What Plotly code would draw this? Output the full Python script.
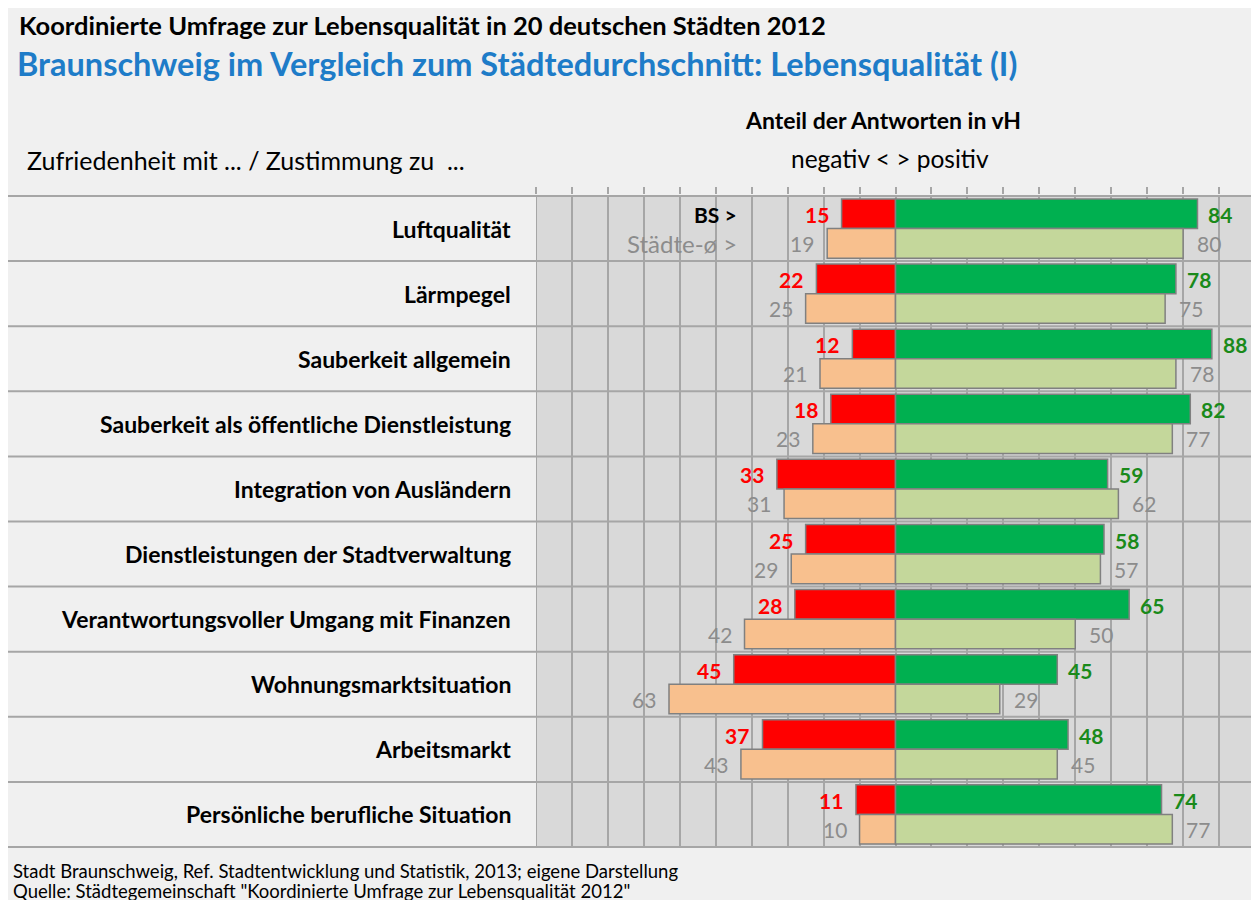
import plotly.graph_objects as go

categories = [
    "Luftqualität",
    "Lärmpegel",
    "Sauberkeit allgemein",
    "Sauberkeit als öffentliche Dienstleistung",
    "Integration von Ausländern",
    "Dienstleistungen der Stadtverwaltung",
    "Verantwortungsvoller Umgang mit Finanzen",
    "Wohnungsmarktsituation",
    "Arbeitsmarkt",
    "Persönliche berufliche Situation",
]
bs_negativ = [15, 22, 12, 18, 33, 25, 28, 45, 37, 11]
bs_positiv = [84, 78, 88, 82, 59, 58, 65, 45, 48, 74]
staedte_negativ = [19, 25, 21, 23, 31, 29, 42, 63, 43, 10]
staedte_positiv = [80, 75, 78, 77, 62, 57, 50, 29, 45, 77]

FONT = "Lato"
OFF = 8  # page body margin
W, H = 1251, 892
ML, MR, MT, MB = 528, 4, 187, 52
PW, PH = W - ML - MR, H - MT - MB


def px(p):
    return (p - OFF - ML) / PW


def py(q):
    return (H - MB - (q - OFF)) / PH


GRID = "#a6a6a6"
OUTLINE = "#808080"

fig = go.Figure()


def add_bar(vals, sign, color, group, name):
    fig.add_trace(go.Bar(
        y=categories,
        x=[sign * v for v in vals],
        orientation="h",
        offsetgroup=group,
        marker=dict(color=color, line=dict(color=OUTLINE, width=1.5)),
        name=name,
        showlegend=False,
        hoverinfo="skip",
    ))


add_bar(bs_negativ, -1, "#ff0000", "bs", "BS negativ")
add_bar(bs_positiv, 1, "#00b050", "bs", "BS positiv")
add_bar(staedte_negativ, -1, "#f8c08e", "st", "Städte negativ")
add_bar(staedte_positiv, 1, "#c4d79b", "st", "Städte positiv")

VS = 21
annotations = []
for i, cat in enumerate(categories):
    annotations.append(dict(x=-bs_negativ[i], y=cat, xref="x", yref="y", text=str(bs_negativ[i]),
                            xanchor="right", yanchor="middle", xshift=-11, yshift=14, showarrow=False,
                            font=dict(family=FONT, size=VS, color="#ff0000", weight="bold")))
    annotations.append(dict(x=bs_positiv[i], y=cat, xref="x", yref="y", text=str(bs_positiv[i]),
                            xanchor="left", yanchor="middle", xshift=9, yshift=14, showarrow=False,
                            font=dict(family=FONT, size=VS, color="#1a8a1a", weight="bold")))
    annotations.append(dict(x=-staedte_negativ[i], y=cat, xref="x", yref="y", text=str(staedte_negativ[i]),
                            xanchor="right", yanchor="middle", xshift=-11, yshift=-15, showarrow=False,
                            font=dict(family=FONT, size=VS, color="#8c8c8c")))
    annotations.append(dict(x=staedte_positiv[i], y=cat, xref="x", yref="y", text=str(staedte_positiv[i]),
                            xanchor="left", yanchor="middle", xshift=12, yshift=-15, showarrow=False,
                            font=dict(family=FONT, size=VS, color="#8c8c8c")))
    annotations.append(dict(x=0, y=cat, xref="paper", yref="y", text=cat, xanchor="right",
                            yanchor="middle", xshift=-23, showarrow=False,
                            font=dict(family=FONT, size=23, color="#000000", weight="bold")))

annotations.append(dict(x=-43.5, y=categories[0], xref="x", yref="y", text="BS >", xanchor="right",
                        yanchor="middle", yshift=14, showarrow=False,
                        font=dict(family=FONT, size=21, color="#000000", weight="bold")))
annotations.append(dict(x=-43.5, y=categories[0], xref="x", yref="y", text="Städte-ø >", xanchor="right",
                        yanchor="middle", yshift=-15, showarrow=False,
                        font=dict(family=FONT, size=24, color="#8c8c8c")))

annotations += [
    dict(x=px(17), y=py(25), xref="paper", yref="paper",
         text="Koordinierte Umfrage zur Lebensqualität in 20 deutschen Städten 2012",
         xanchor="left", yanchor="middle", showarrow=False,
         font=dict(family=FONT, size=25.5, color="#000000", weight="bold")),
    dict(x=px(15), y=py(63), xref="paper", yref="paper",
         text="Braunschweig im Vergleich zum Städtedurchschnitt: Lebensqualität (I)",
         xanchor="left", yanchor="middle", showarrow=False,
         font=dict(family=FONT, size=32.5, color="#1e7cc8", weight="bold")),
    dict(x=px(883), y=py(120), xref="paper", yref="paper", text="Anteil der Antworten in vH",
         xanchor="center", yanchor="middle", showarrow=False,
         font=dict(family=FONT, size=23, color="#000000", weight="bold")),
    dict(x=px(890), y=py(158), xref="paper", yref="paper", text="negativ &lt; &gt; positiv",
         xanchor="center", yanchor="middle", showarrow=False,
         font=dict(family=FONT, size=24.5, color="#000000")),
    dict(x=px(25), y=py(160), xref="paper", yref="paper", text="Zufriedenheit mit ... / Zustimmung zu  ...",
         xanchor="left", yanchor="middle", showarrow=False,
         font=dict(family=FONT, size=25, color="#000000")),
    dict(x=px(11), y=py(871), xref="paper", yref="paper",
         text="Stadt Braunschweig, Ref. Stadtentwicklung und Statistik, 2013; eigene Darstellung",
         xanchor="left", yanchor="middle", showarrow=False,
         font=dict(family=FONT, size=18.5, color="#000000")),
    dict(x=px(11), y=py(891), xref="paper", yref="paper",
         text="Quelle: Städtegemeinschaft \"Koordinierte Umfrage zur Lebensqualität 2012\"",
         xanchor="left", yanchor="middle", showarrow=False,
         font=dict(family=FONT, size=18.5, color="#000000")),
]

shapes = []
for k in range(len(categories) + 1):
    shapes.append(dict(type="line", xref="paper", yref="y", x0=px(8), x1=1, y0=k - 0.5, y1=k - 0.5,
                       line=dict(color=GRID, width=2), layer="above"))
for xv in (-100, 100):
    shapes.append(dict(type="line", xref="x", yref="paper", x0=xv, x1=xv, y0=0, y1=1,
                       line=dict(color=GRID, width=2), layer="below"))

fig.update_layout(
    width=W, height=H,
    margin=dict(l=ML, r=MR, t=MT, b=MB, pad=0),
    paper_bgcolor="#f0f0f0",
    plot_bgcolor="#d9d9d9",
    barmode="group",
    bargap=0.09,
    bargroupgap=0,
    showlegend=False,
    font=dict(family=FONT),
    xaxis=dict(range=[-100, 100], side="top", dtick=10, tick0=0, showgrid=True, gridcolor=GRID,
               gridwidth=1.5, zeroline=False, showticklabels=False, ticks="outside", ticklen=7,
               tickcolor=GRID, tickwidth=1.5, showline=False, fixedrange=True),
    yaxis=dict(autorange="reversed", showticklabels=False, showgrid=False, zeroline=False,
               showline=False, ticks="", fixedrange=True),
    annotations=annotations,
    shapes=shapes,
)

fig.write_html("out.html")
